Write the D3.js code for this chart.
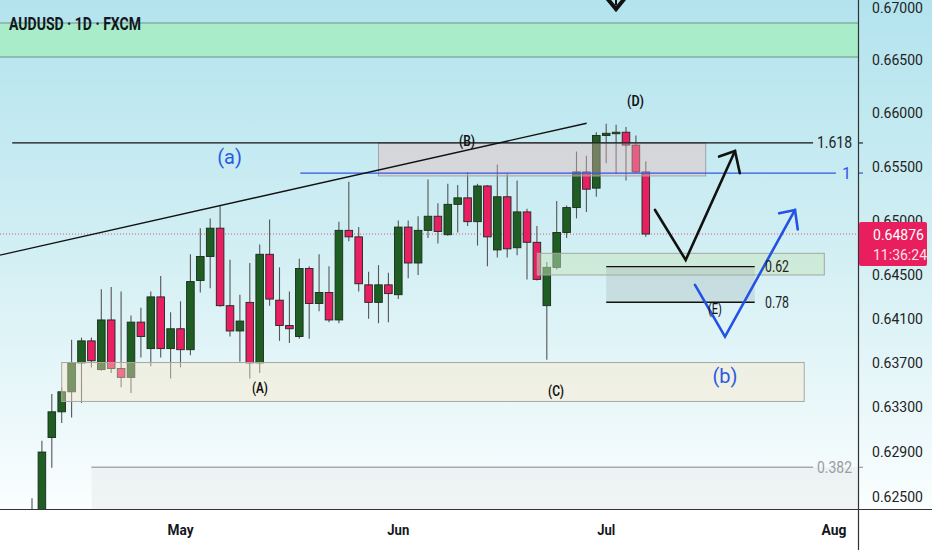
<!DOCTYPE html>
<html><head><meta charset="utf-8">
<script src="https://cdn.jsdelivr.net/npm/d3@7/dist/d3.min.js"></script>
<style>html,body{margin:0;padding:0;background:#fff;overflow:hidden}</style>
</head><body>
<svg id="c" width="932" height="550"></svg>
<script>
// ---------- DATA ----------
const dates = [
"2025-04-10","2025-04-11","2025-04-14","2025-04-15","2025-04-16","2025-04-17","2025-04-18","2025-04-21","2025-04-22","2025-04-23","2025-04-24","2025-04-25","2025-04-28","2025-04-29","2025-04-30",
"2025-05-01","2025-05-02","2025-05-05","2025-05-06","2025-05-07","2025-05-08","2025-05-09","2025-05-12","2025-05-13","2025-05-14","2025-05-15","2025-05-16","2025-05-19","2025-05-20","2025-05-21","2025-05-22","2025-05-23","2025-05-26","2025-05-27","2025-05-28","2025-05-29","2025-05-30",
"2025-06-02","2025-06-03","2025-06-04","2025-06-05","2025-06-06","2025-06-09","2025-06-10","2025-06-11","2025-06-12","2025-06-13","2025-06-16","2025-06-17","2025-06-18","2025-06-19","2025-06-20","2025-06-23","2025-06-24","2025-06-25","2025-06-26","2025-06-27","2025-06-30",
"2025-07-01","2025-07-02","2025-07-03","2025-07-04","2025-07-07"];
const open  = [0.6195,0.6215,0.6303,0.6326,0.6344,0.6370,0.6390,0.6364,0.6409,0.6365,0.6357,0.6407,0.6383,0.6430,0.6383,
0.6401,0.6382,0.6445,0.6467,0.6493,0.6422,0.6399,0.6425,0.6370,0.6469,0.6427,0.6404,0.6394,0.6456,0.6424,0.6434,0.6409,0.6491,0.6485,0.6441,0.6425,0.6441,
0.6432,0.6494,0.6461,0.6491,0.6504,0.6487,0.6515,0.6521,0.6499,0.6532,0.6473,0.6522,0.6475,0.6508,0.6480,0.6422,0.6457,0.6489,0.6512,0.6545,0.6530,
0.6579,0.6581,0.6582,0.6570,0.6545];
const high  = [0.6249,0.6300,0.6342,0.6348,0.6391,0.6393,0.6393,0.6437,0.6439,0.6435,0.6413,0.6420,0.6435,0.6449,0.6416,
0.6426,0.6469,0.6493,0.6502,0.6514,0.6464,0.6432,0.6461,0.6478,0.6501,0.6457,0.6435,0.6465,0.6458,0.6469,0.6458,0.6499,0.6536,0.6494,0.6453,0.6459,0.6452,
0.6500,0.6500,0.6504,0.6538,0.6516,0.6534,0.6533,0.6545,0.6534,0.6533,0.6552,0.6543,0.6537,0.6511,0.6495,0.6462,0.6518,0.6514,0.6564,0.6560,0.6582,
0.6590,0.6589,0.6587,0.6579,0.6555];
const low   = [0.6170,0.6205,0.6276,0.6316,0.6321,0.6334,0.6366,0.6363,0.6361,0.6348,0.6343,0.6375,0.6367,0.6375,0.6356,
0.6366,0.6377,0.6434,0.6438,0.6421,0.6394,0.6371,0.6356,0.6361,0.6422,0.6390,0.6388,0.6392,0.6392,0.6417,0.6407,0.6406,0.6481,0.6435,0.6410,0.6406,0.6407,
0.6428,0.6447,0.6450,0.6484,0.6479,0.6486,0.6489,0.6495,0.6477,0.6458,0.6466,0.6466,0.6468,0.6446,0.6445,0.6373,0.6455,0.6484,0.6502,0.6508,0.6522,
0.6553,0.6543,0.6537,0.6544,0.6485];
const close = [0.6215,0.6290,0.6326,0.6344,0.6370,0.6390,0.6372,0.6409,0.6365,0.6357,0.6407,0.6394,0.6430,0.6383,0.6401,
0.6382,0.6444,0.6467,0.6493,0.6422,0.6399,0.6408,0.6370,0.6469,0.6428,0.6404,0.6401,0.6456,0.6424,0.6434,0.6409,0.6491,0.6485,0.6442,0.6425,0.6441,0.6433,
0.6494,0.6461,0.6491,0.6504,0.6490,0.6515,0.6521,0.6499,0.6532,0.6485,0.6522,0.6474,0.6508,0.6480,0.6446,0.6457,0.6489,0.6512,0.6545,0.6529,0.6579,
0.6581,0.6582,0.6570,0.6545,0.64876];

const priceTicks = [0.670,0.665,0.660,0.655,0.650,0.645,0.641,0.637,0.633,0.629,0.625];
const monthLabels = ["May","Jun","Jul","Aug"];
const monthBar = [15,37,58,81];
const lastPrice = 0.64876;
const countdown = "11:36:24";
const title = "AUDUSD · 1D · FXCM";

// fib levels: label, price, bar range
const fibLabels = ["1.618","1","0.382"];
const fibPrice  = [0.65720,0.65440,0.62764];
const fibFrom   = [-2.0,27.1,6.0];
const fibTo     = [78.9,81.2,78.9];
// small fib 0.62 / 0.78
const subLabels = ["0.62","0.78"];
const subPrice  = [0.64576,0.64251];
// zones [bar0, bar1, priceLow, priceHigh]
const zoneTop  = [-4, 90, 0.66526, 0.66848];
const zoneB    = [35.0, 68.05, 0.65413, 0.65720];
const zoneA    = [3.0, 78.0, 0.63353, 0.63704];
const zoneFib  = [51.04, 80.03, 0.64500, 0.64699];
const zoneE    = [58.0, 73.0, 0.64251, 0.64576];
const zoneLow  = [6.03, 90, 0.6200, 0.62764];
// trend line
const trendBar = [-3.23, 56.03];
const trendPrice = [0.64683, 0.65904];
// projected paths
const blackPathBar = [62.93, 66.03, 71.01];
const blackPathPrice = [0.65098, 0.64638, 0.65645];
const blackHeadBar = [69.4, 71.01, 71.5];
const blackHeadPrice = [0.65593, 0.65645, 0.65438];
const bluePathBar = [66.97, 70.0, 77.07];
const bluePathPrice = [0.64409, 0.63938, 0.65098];
const blueHeadBar = [75.47, 77.07, 77.35];
const blueHeadPrice = [0.65067, 0.65098, 0.64918];
const chevBar = [58.07, 58.99, 59.9];
const chevPrice = [0.67085, 0.66981, 0.67085];
// wave labels
const waveLabels = ["(A)","(B)","(C)","(D)","(E)"];
const waveBar = [23.03,43.94,52.93,60.96,68.99];
const wavePrice = [0.63474,0.65738,0.63447,0.66103,0.64186];
const degLabels = ["(a)","(b)"];
const degBar = [19.95,70.0];
const degPrice = [0.65589,0.63582];

// ---------- LAYOUT ----------
const W = 932, H = 550, plotR = 858, plotB = 509;
const svg = d3.select("#c");
const x = d3.scaleLinear().domain([0,62]).range([32,645.8]);
const y = d3.scaleLog().domain([0.625,0.67]).range([497,7]);
const FONT = "Roboto, 'Noto Sans', sans-serif";

const defs = svg.append("defs");
const gr = defs.append("linearGradient").attr("id","bg").attr("x1",0).attr("y1",0).attr("x2",0).attr("y2",1);
[[0,"#b3e3ee"],[0.45,"#cfeef3"],[0.85,"#eef9fb"],[1,"#fafefe"]].forEach(s=>gr.append("stop").attr("offset",s[0]).attr("stop-color",s[1]));
defs.append("clipPath").attr("id","clip").append("rect").attr("x",0).attr("y",0).attr("width",plotR).attr("height",plotB);

svg.append("rect").attr("x",0).attr("y",0).attr("width",W).attr("height",H).attr("fill","#fff");
svg.append("rect").attr("x",0).attr("y",0).attr("width",W).attr("height",plotB).attr("fill","url(#bg)");

const g = svg.append("g").attr("clip-path","url(#clip)");

function zoneRect(z, fill, op, stroke){
  const x0 = x(z[0]), x1 = x(z[1]), y0 = y(z[3]), y1 = y(z[2]);
  return g.append("rect").attr("x",x0).attr("y",y0).attr("width",x1-x0).attr("height",y1-y0)
    .attr("fill",fill).attr("fill-opacity",op).attr("stroke",stroke||"none").attr("stroke-width",1);
}

// background zones (behind candles)
zoneRect(zoneTop,"#a9ecc9",1,"none");
g.append("line").attr("x1",0).attr("x2",plotR).attr("y1",y(zoneTop[3])).attr("y2",y(zoneTop[3])).attr("stroke","#82b0a0").attr("stroke-width",1.5);
g.append("line").attr("x1",0).attr("x2",plotR).attr("y1",y(zoneTop[2])).attr("y2",y(zoneTop[2])).attr("stroke","#82b0a0").attr("stroke-width",1.5);
zoneRect(zoneLow,"#e6e9eb",0.5,"none");

// dotted last price line
g.append("line").attr("x1",0).attr("x2",plotR).attr("y1",y(lastPrice)).attr("y2",y(lastPrice))
  .attr("stroke","#d6587a").attr("stroke-width",1).attr("stroke-dasharray","1,2");

// candles
const bw = 7.6;
const cg = g.append("g");
dates.forEach((d,i)=>{
  const up = close[i] >= open[i];
  const cx = x(i);
  cg.append("line").attr("x1",cx).attr("x2",cx).attr("y1",y(high[i])).attr("y2",y(low[i]))
    .attr("stroke","#555").attr("stroke-width",1.1);
  const yt = y(Math.max(open[i],close[i])), yb = y(Math.min(open[i],close[i]));
  cg.append("rect").attr("x",cx-bw/2).attr("y",yt).attr("width",bw).attr("height",Math.max(1.5,yb-yt))
    .attr("fill",up?"#1e5e22":"#e91e63").attr("stroke","#1d2a1d").attr("stroke-width",0.9);
});

// overlay zones
zoneRect(zoneB,"rgb(235,185,185)",0.4,"#a2a2aa");
zoneRect(zoneA,"rgb(252,232,200)",0.42,"#a8a8a0");
zoneRect(zoneFib,"rgb(200,228,190)",0.5,"#a0a8a0");
zoneRect(zoneE,"rgb(160,175,175)",0.3,"none");

// fib lines
const fibColor = ["#111","#2f55e6","#aaaaaa"];
fibLabels.forEach((l,i)=>{
  g.append("line").attr("x1",x(fibFrom[i])).attr("x2",x(fibTo[i])).attr("y1",y(fibPrice[i])).attr("y2",y(fibPrice[i]))
    .attr("stroke",fibColor[i]).attr("stroke-width",i==2?1.5:1.2);
});
subLabels.forEach((l,i)=>{
  g.append("line").attr("x1",x(zoneE[0])).attr("x2",x(zoneE[1])).attr("y1",y(subPrice[i])).attr("y2",y(subPrice[i]))
    .attr("stroke","#111").attr("stroke-width",1.3);
});

// trend line
g.append("line").attr("x1",x(trendBar[0])).attr("y1",y(trendPrice[0])).attr("x2",x(trendBar[1])).attr("y2",y(trendPrice[1]))
  .attr("stroke","#111").attr("stroke-width",1.3);

// projection paths
const ln = d3.line().x(d=>x(d[0])).y(d=>y(d[1]));
function poly(bars, prices, col, w){
  g.append("path").attr("d",ln(bars.map((b,i)=>[b,prices[i]]))).attr("fill","none")
    .attr("stroke",col).attr("stroke-width",w).attr("stroke-linejoin","miter").attr("stroke-linecap","round");
}
poly(blackPathBar,blackPathPrice,"#111",2.6);
poly(blackHeadBar,blackHeadPrice,"#111",2.6);
poly(bluePathBar,bluePathPrice,"#2352e4",2.6);
poly(blueHeadBar,blueHeadPrice,"#2352e4",2.6);
poly(chevBar,chevPrice,"#111",4);
g.append("line").attr("x1",x(chevBar[1])).attr("x2",x(chevBar[1])).attr("y1",0).attr("y2",y(chevPrice[1])-4).attr("stroke","#111").attr("stroke-width",2);

// text helper
function txt(parent, tx, ty, s, o){
  const t = parent.append("text").attr("x",tx).attr("y",ty).text(s)
    .attr("font-family",FONT).attr("font-size",o.size).attr("font-weight",o.weight||400)
    .attr("fill",o.fill||"#222").attr("text-anchor",o.anchor||"start").attr("dominant-baseline","central");
  if(o.len) t.attr("textLength",o.len).attr("lengthAdjust","spacingAndGlyphs");
  return t;
}

// wave labels
const waveLen = [16,16,16,17,14];
waveLabels.forEach((l,i)=>txt(g,x(waveBar[i]),y(wavePrice[i]),l,{size:14.5,weight:i==4?400:600,fill:"#111",anchor:"middle",len:waveLen[i]}));
degLabels.forEach((l,i)=>txt(g,x(degBar[i]),y(degPrice[i]),l,{size:20,fill:"#2a5ae2",anchor:"middle"}));

// fib labels
const fibTxtCol = ["#222","#2f55e6","#9c9c9c"];
fibLabels.forEach((l,i)=>{
  txt(svg, i==1?851:852, y(fibPrice[i]), l, {size:16, fill:fibTxtCol[i], anchor:"end", len:i==1?null:35});
  svg.append("line").attr("x1",plotR).attr("x2",plotR+5).attr("y1",y(fibPrice[i])).attr("y2",y(fibPrice[i])).attr("stroke",fibTxtCol[i]).attr("stroke-width",1.2);
});
subLabels.forEach((l,i)=>txt(svg, 765, y(subPrice[i]), l, {size:16, fill:"#222", len:24}));

// title
txt(svg, 9, 23.5, title, {size:18, weight:700, fill:"#131722", len:132});

// axes
svg.append("line").attr("x1",plotR+0.5).attr("x2",plotR+0.5).attr("y1",0).attr("y2",H).attr("stroke","#333").attr("stroke-width",1.2);
svg.append("line").attr("x1",0).attr("x2",W).attr("y1",plotB+0.5).attr("y2",plotB+0.5).attr("stroke","#333").attr("stroke-width",1.2);

const yAxis = svg.append("g");
priceTicks.forEach(p=>txt(yAxis, 872, y(p)+(p===0.670?0.5:0), p.toFixed(5), {size:15.5, fill:"#222", len:51}));

const monthLen = [26,22,18,25];
monthLabels.forEach((m,i)=>txt(svg, x(monthBar[i]), 530, m, {size:15, weight:700, fill:"#131722", anchor:"middle", len:monthLen[i]}));

// last price label
const ly = y(lastPrice);
svg.append("rect").attr("x",plotR+1).attr("y",ly-12).attr("width",68).attr("height",44).attr("rx",2).attr("fill","#e91e5e");
txt(svg, 873, ly+0.5, lastPrice.toFixed(5), {size:15.5, fill:"#fff", len:51});
txt(svg, 873, ly+21, countdown, {size:15.5, fill:"#ffe0e8", len:54});
</script>
</body></html>
